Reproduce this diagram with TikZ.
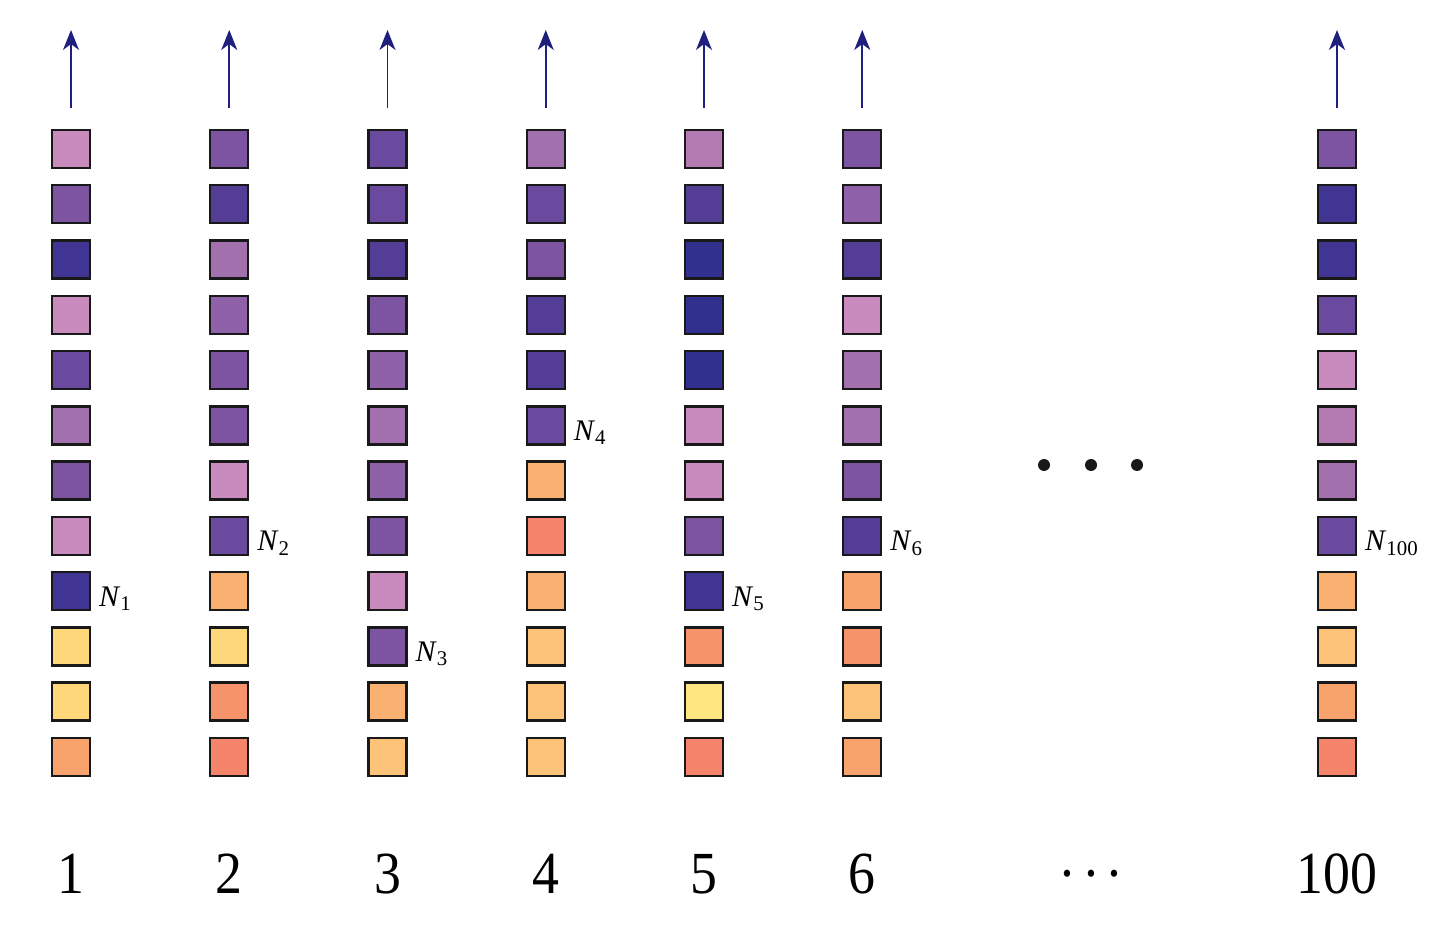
\documentclass[tikz,border=0pt]{standalone}
\usepackage{fontspec}
\setmainfont{Liberation Serif}
\newfontfamily\numfont[FakeStretch=0.9]{Liberation Serif}
\usepackage{tikz}
\usetikzlibrary{positioning,arrows.meta}

% palette of the cells
\definecolor{pinkA}{HTML}{C98BBD}
\definecolor{pinkB}{HTML}{B47AB2}
\definecolor{lilac}{HTML}{A270AD}
\definecolor{mauve}{HTML}{8E61A8}
\definecolor{purp}{HTML}{7C54A2}
\definecolor{violet}{HTML}{6A4A9E}
\definecolor{indigo}{HTML}{533D97}
\definecolor{navy}{HTML}{403593}
\definecolor{deepnavy}{HTML}{31308F}
\definecolor{yellowA}{HTML}{FFD77B}
\definecolor{yellowB}{HTML}{FFE680}
\definecolor{peach}{HTML}{FDC479}
\definecolor{apricot}{HTML}{FAB071}
\definecolor{orange}{HTML}{F9A36C}
\definecolor{coral}{HTML}{F7936A}
\definecolor{salmon}{HTML}{F5846A}
\definecolor{arrowblue}{HTML}{1F1F7E}

\tikzset{
  cell/.style={draw=black!90, line width=1.4pt, minimum size=0.76cm, inner sep=0pt},
  flow/.style={-{Stealth[length=4mm, width=3.2mm, inset=1.2mm]}, line width=1.1pt, color=arrowblue},
  tag/.style={font=\fontsize{17}{20}\selectfont, inner sep=0pt},
  colnum/.style={font=\numfont\fontsize{34}{40}\selectfont, anchor=base}
}

\begin{document}
\begin{tikzpicture}
    \useasboundingbox (0,0) rectangle (29.12,-18.6);

    % Columns of cells: label / position / row of N / colours top to bottom
    \foreach \k/\p/\nrow/\clist in {
        1/0/9/{pinkA,purp,navy,pinkA,violet,lilac,purp,pinkA,navy,yellowA,yellowA,orange},
        2/1/8/{purp,indigo,lilac,mauve,purp,purp,pinkA,violet,apricot,yellowA,coral,salmon},
        3/2/10/{violet,violet,indigo,purp,mauve,lilac,mauve,purp,pinkA,purp,apricot,peach},
        4/3/6/{lilac,violet,purp,indigo,indigo,violet,apricot,salmon,apricot,peach,peach,peach},
        5/4/9/{pinkB,indigo,deepnavy,deepnavy,deepnavy,pinkA,pinkA,purp,navy,coral,yellowB,salmon},
        6/5/8/{purp,mauve,indigo,pinkA,lilac,lilac,purp,indigo,orange,coral,peach,orange},
        100/8/8/{purp,navy,navy,violet,pinkA,pinkB,lilac,violet,apricot,peach,orange,salmon}} {
      \pgfmathsetmacro{\xc}{1.42+3.165*\p}
      \foreach \clr [count=\r] in \clist {
        \node[cell, fill=\clr] (c\k-\r) at (\xc, {-2.98-1.1054*(\r-1)}) {};
      }
      % arrow above the column
      \coordinate (tip\k) at (\xc,-0.6);
      \draw[flow, shorten <=0.42cm] (c\k-1) -- (tip\k);
      % N label and column number
      \node[tag, right=1.5mm of c\k-\nrow, yshift=-1.5mm] (n\k) {\textit{N}\textsubscript{\k}};
      \node[colnum] (num\k) at (\xc,-17.86) {\k};
    }

    % Ellipsis
    \foreach \x in {20.88,21.82,22.74} \fill[black!90] (\x,-9.3) circle (0.12);
    \node[colnum] (numdots) at (21.82,-17.86) {·\kern3pt·\kern3pt·};
\end{tikzpicture}
\end{document}
